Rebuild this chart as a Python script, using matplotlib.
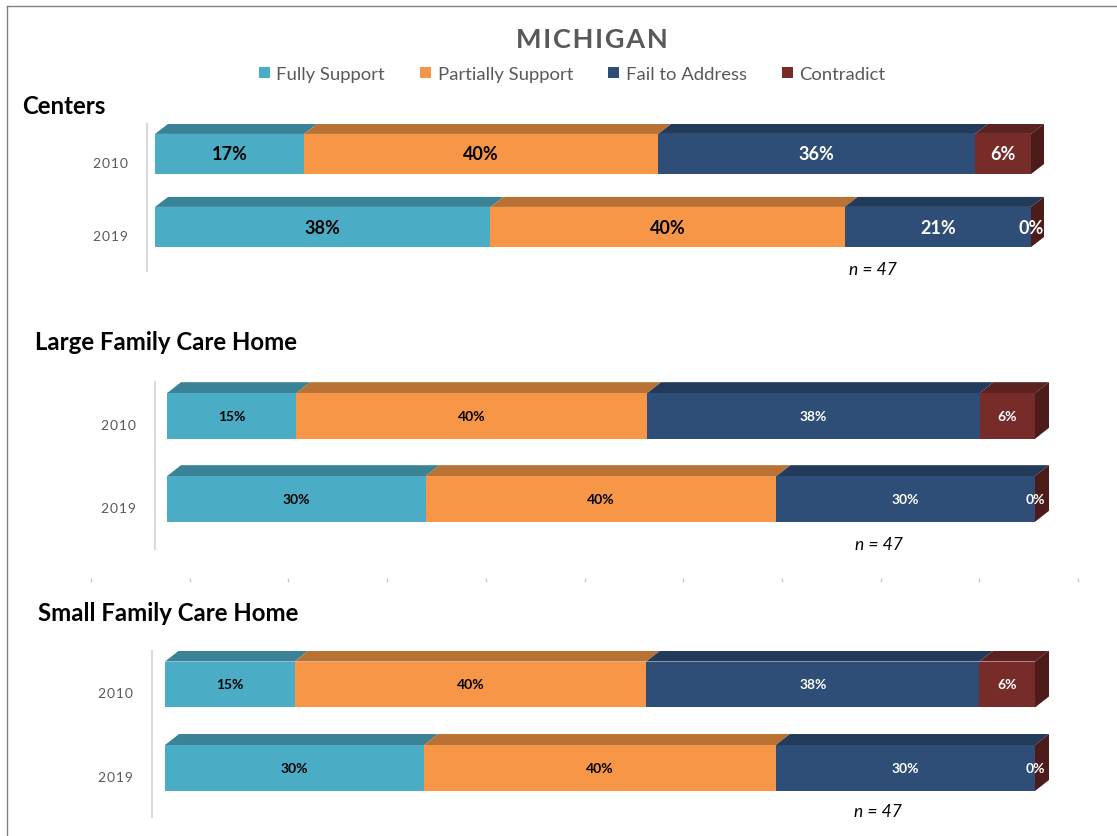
import matplotlib
matplotlib.use('Agg')
import matplotlib.pyplot as plt
from matplotlib.patches import Polygon, Patch
from matplotlib.lines import Line2D
from matplotlib import transforms
import numpy as np

# data: number of standards (out of n = 47) in each category
categories = ["Fully Support", "Partially Support", "Fail to Address", "Contradict"]
years = ["2010", "2019"]
panel_titles = ["Centers", "Large Family Care Home", "Small Family Care Home"]
centers_2010 = [8, 19, 17, 3]
centers_2019 = [18, 19, 10, 0]
large_2010 = [7, 19, 18, 3]
large_2019 = [14, 19, 14, 0]
small_2010 = [7, 19, 18, 3]
small_2019 = [14, 19, 14, 0]
n_standards = 47

front_colors = ["#4BACC6", "#F79646", "#2E4D77", "#772C2A"]
top_colors = ["#3A8397", "#B97234", "#233B5A", "#5B2220"]
side_color = "#4C1B1A"
text_colors = ["black", "black", "white", "white"]

plt.rcParams['font.family'] = ['Lato', 'DejaVu Sans']

W, H = 1117, 837
fig = plt.figure(figsize=(W / 100, H / 100), dpi=100)


def add_box(left, top, right, bottom):
    return fig.add_axes([left / W, 1 - bottom / H, (right - left) / W, (bottom - top) / H])


def draw_panel(rows, geo, depth, label_size, n_y, title, title_pos):
    spine_x, zero_x, full_x, top_y, bottom_y, c0, c1 = geo
    right_x = 1062
    ax = add_box(spine_x, top_y, right_x, bottom_y)
    sx = (full_x - zero_x) / 100.0      # pixels per percent
    sy = c1 - c0                        # pixels per row
    ax.set_xlim((spine_x - zero_x) / sx, (right_x - zero_x) / sx)
    ax.set_ylim((bottom_y - c0) / sy, (top_y - c0) / sy)

    h = 0.55
    dx = depth[0] / sx
    dy = depth[1] / sy
    for yi, counts in enumerate(rows):
        pcts = np.array(counts) / n_standards * 100
        lefts = np.concatenate([[0], np.cumsum(pcts)[:-1]])
        yt = yi - h / 2
        yb = yi + h / 2
        # top faces
        for k in range(len(pcts)):
            x0, x1 = lefts[k], lefts[k] + pcts[k]
            ax.add_patch(Polygon([(x0, yt), (x1, yt), (x1 + dx, yt - dy), (x0 + dx, yt - dy)],
                                 closed=True, facecolor=top_colors[k], edgecolor='none', zorder=2))
        # side face at end of bar
        xe = lefts[-1] + pcts[-1]
        ax.add_patch(Polygon([(xe, yt), (xe + dx, yt - dy), (xe + dx, yb - dy), (xe, yb)],
                             closed=True, facecolor=side_color, edgecolor='none', zorder=2))
        ax.barh(yi, pcts, left=lefts, height=h, color=front_colors,
                edgecolor='none', linewidth=0, zorder=3)
        for k in range(len(pcts)):
            ax.text(lefts[k] + pcts[k] / 2, yi, f"{round(pcts[k])}%", ha='center', va='center',
                    fontsize=label_size, fontweight='bold', color=text_colors[k], zorder=4)

    ax.text(82, n_y, f"n = {n_standards}", ha='center', va='center', fontsize=12.5,
            style='italic', color='black')

    ax.set_yticks(range(len(years)))
    ax.set_yticklabels(["\u200a".join(y) for y in years], fontsize=10, color='#595959')
    ax.tick_params(axis='y', length=0, pad=14)
    offset = transforms.ScaledTranslation(0, -0.08, fig.dpi_scale_trans)
    for lbl in ax.get_yticklabels():
        lbl.set_transform(lbl.get_transform() + offset)
    ax.set_xticks([])
    for s in ['top', 'right', 'bottom']:
        ax.spines[s].set_visible(False)
    ax.spines['left'].set_color('#D9D9D9')
    ax.spines['left'].set_linewidth(1.5)
    ax.patch.set_alpha(0)

    fig.text(title_pos[0] / W, 1 - title_pos[1] / H, title, ha='left', va='center',
             fontsize=17.3, fontweight='bold', color='black')


draw_panel([centers_2010, centers_2019], (147, 155, 1031, 125, 272, 155, 228), (13, 10), 13,
           1.58, panel_titles[0], (22, 107))
draw_panel([large_2010, large_2019], (155, 167, 1035, 383, 550, 417, 500), (14, 11), 10,
           1.54, panel_titles[1], (35, 342))
draw_panel([small_2010, small_2019], (152, 165, 1035, 652, 818, 685.5, 769), (14, 11), 10,
           1.51, panel_titles[2], (38, 614))

# faint tick row between the lower panels
ax_t = fig.add_axes([91 / W, 1 - 581 / H, (1078 - 91) / W, 0.0005])
ax_t.set_xlim(0, 100)
ax_t.set_xticks(np.linspace(0, 100, 11))
ax_t.set_xticklabels([])
ax_t.set_yticks([])
ax_t.tick_params(axis='x', length=3, color='#C8C8C8', width=1, direction='inout')
for s in ax_t.spines.values():
    s.set_visible(False)
ax_t.patch.set_alpha(0)

fig.text(592 / W, 1 - 40 / H, "\u200a".join("MICHIGAN"), ha='center', va='center', fontsize=19.5,
         fontweight='bold', color='#595959')

handles = [Patch(facecolor=c, edgecolor='none', label=l) for c, l in zip(front_colors, categories)]
fig.legend(handles=handles, loc='center', bbox_to_anchor=(572 / W, 1 - 75 / H), ncol=4,
           frameon=False, fontsize=13.3, handlelength=0.6, handleheight=0.6,
           handletextpad=0.35, columnspacing=1.9, labelcolor='#595959')

# frame lines at top and left
fig.add_artist(Line2D([7 / W, 1], [1 - 7 / H, 1 - 7 / H], color='#808080', lw=1,
                      transform=fig.transFigure))
fig.add_artist(Line2D([7 / W, 7 / W], [0, 1 - 7 / H], color='#808080', lw=1,
                      transform=fig.transFigure))

fig.savefig("out.png", dpi=100)
